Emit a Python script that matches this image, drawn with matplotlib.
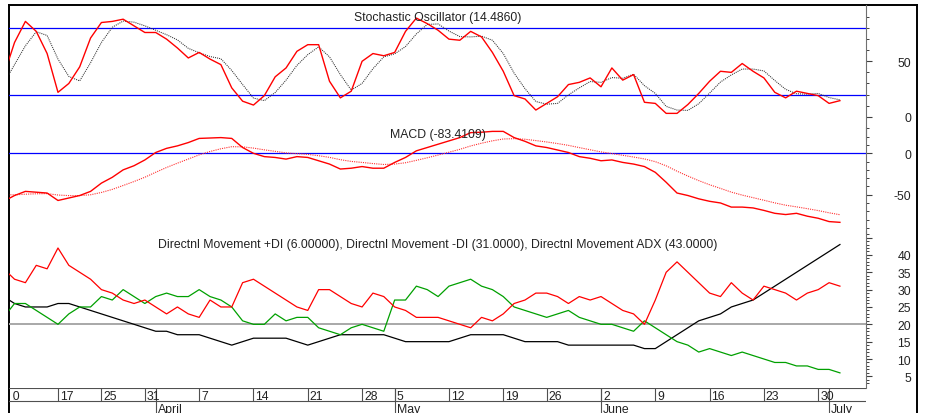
import matplotlib
matplotlib.use('Agg')
import matplotlib.pyplot as plt
import matplotlib.transforms as mtransforms
import numpy as np
import pandas as pd

W, H = 928, 414
plt.rcParams['font.family'] = ['Liberation Sans', 'DejaVu Sans']
FS = 8.8

# ---------------- data ----------------
holidays = ['2008-03-21', '2008-03-24', '2008-05-01', '2008-05-02', '2008-05-23']
dates = pd.bdate_range('2008-03-10', '2008-07-02')
dates = dates[~dates.isin(pd.to_datetime(holidays))]
month_names = {4: 'April', 5: 'May', 6: 'June', 7: 'July'}

stoch_k = [37, 67, 86, 77, 57, 22, 30, 45, 71, 85,
           86, 88, 82, 76, 76, 70, 62, 53, 58, 52,
           47, 26, 14, 10.5, 19, 36, 44, 59, 65, 65,
           32, 17, 23, 50, 57, 55, 58, 77, 89, 84,
           78, 70, 69, 77, 72, 58, 41, 19, 16, 6,
           12, 18, 29, 31, 35, 27, 44, 33, 38, 13,
           12, 3, 3, 11, 21, 32, 41, 40, 48, 41,
           35, 22, 17, 23, 21, 19, 12, 14.486]
stoch_d = [30, 47, 64, 76.7, 73.3, 52, 36.3, 32.3, 48.7, 67,
           80.7, 86.3, 85.3, 82, 78, 74, 69.3, 61.7, 57.7, 54.3,
           52.3, 41.7, 29, 16.8, 14.5, 21.8, 33, 46.3, 56, 63,
           54, 38, 24, 30, 43.3, 54, 56.7, 63.3, 74.7, 83.3,
           83.7, 77.3, 72.3, 72, 72.7, 69, 57, 39.3, 25.3, 13.7,
           11.3, 12, 19.7, 26, 31.7, 31, 35.3, 34.7, 38.3, 28,
           21, 9.3, 6, 5.7, 11.7, 21.3, 31.3, 37.7, 43, 43,
           41.3, 32.7, 24.7, 20.7, 20.3, 21, 17.3, 15.2]
macd = [-58, -51, -46, -47, -48, -57, -54, -51, -46, -36,
        -29, -20, -15, -8, 1, 6, 9, 13, 18, 18.5,
        19, 18, 7, 0, -4, -5, -7, -4, -5, -9,
        -13, -19, -18, -16, -18, -18, -11, -5, 3, 7,
        11, 15, 19, 25, 25.5, 26.5, 26.5, 19, 14.5, 9,
        7, 4, 1, -4, -6, -9, -8, -11, -13, -16,
        -23, -35, -48, -51, -55, -58, -60, -65, -65, -66,
        -69, -72.5, -74, -72.5, -76, -78.5, -82.5, -83.4109]
macd_signal = [-50, -50.2, -49.4, -48.9, -48.7, -50.4, -51.1, -51.1, -50.1, -47.3,
               -43.6, -38.9, -34.1, -28.9, -22.9, -17.1, -11.9, -6.9, -1.9, 2.2,
               5.5, 8.0, 7.8, 6.3, 4.2, 2.4, 0.5, -0.4, -1.3, -2.9,
               -4.9, -7.7, -9.8, -11.0, -12.4, -13.5, -13.0, -11.4, -8.5, -5.4,
               -2.1, 1.3, 4.8, 8.9, 12.2, 15.1, 17.3, 17.7, 17.0, 15.4,
               13.7, 11.8, 9.6, 6.9, 4.3, 1.7, -0.3, -2.4, -4.5, -6.8,
               -10.1, -15.1, -21.6, -27.5, -33.0, -38.0, -42.4, -46.9, -50.5, -53.6,
               -56.7, -59.9, -62.7, -64.7, -66.9, -69.2, -71.9, -74.2]
plus_di = [22, 26, 26, 24, 22, 20, 23, 25, 25, 28,
           27, 30, 28, 26, 28, 29, 28, 28, 30, 28,
           27, 25, 21, 20, 20, 23, 21, 22, 22, 19,
           18, 17, 19, 20, 19, 18, 27, 27, 31, 30,
           28, 31, 32, 33, 31, 30, 28, 25, 24, 23,
           22, 23, 24, 22, 21, 20, 20, 19, 18, 21,
           19, 17, 15, 14, 12, 13, 12, 11, 12, 11,
           10, 9, 9, 8, 8, 7, 7, 6]
minus_di = [36, 33, 32, 37, 36, 42, 37, 35, 33, 30,
            29, 27, 26, 27, 25, 23, 25, 23, 22, 27,
            25, 25, 32, 33, 31, 29, 27, 25, 24, 30,
            30, 28, 26, 25, 29, 28, 25, 24, 22, 22,
            22, 21, 20, 19, 22, 21, 23, 26, 27, 29,
            29, 28, 26, 28, 27, 28, 26, 24, 23, 20,
            27, 35, 38, 35, 32, 29, 28, 32, 29, 27,
            31, 30, 29, 27, 29, 30, 32, 31]
adx = [28, 26, 25, 25, 25, 26, 26, 25, 24, 23,
       22, 21, 20, 19, 18, 18, 17, 17, 17, 16,
       15, 14, 15, 16, 16, 16, 16, 15, 14, 15,
       16, 17, 17, 17, 17, 17, 16, 15, 15, 15,
       15, 15, 16, 17, 17, 17, 17, 16, 15, 15,
       15, 15, 14, 14, 14, 14, 14, 14, 14, 13,
       13, 15, 17, 19, 21, 22, 23, 25, 26, 27,
       29, 31, 33, 35, 37, 39, 41, 43]

stoch_title = 'Stochastic Oscillator (14.4860)'
macd_title = 'MACD (-83.4109)'
dmi_title = ('Directnl Movement +DI (6.00000), Directnl Movement -DI (31.0000), '
             'Directnl Movement ADX (43.0000)')

# ---------------- layout ----------------
x = np.arange(len(dates))
XLIM = (0.49, 79.4)
fig = plt.figure(figsize=(W / 100, H / 100), dpi=100)


def px_axes(x0, y0, x1, y1, z=1):
    ax = fig.add_axes([x0 / W, 1 - y1 / H, (x1 - x0) / W, (y1 - y0) / H])
    ax.set_zorder(z)
    ax.patch.set_alpha(0)
    return ax


# outer frame
frame = px_axes(8.8, 6.2, 917.2, 440, z=0)
frame.set_xticks([]); frame.set_yticks([])
for s in ['left', 'top', 'right']:
    frame.spines[s].set_linewidth(1.4)
    frame.spines[s].set_color('black')
frame.spines['bottom'].set_visible(False)

AXC = '#707070'


def style_panel(ax, ylim, major, labels, minor):
    ax.set_xlim(*XLIM)
    ax.set_ylim(*ylim)
    ax.set_xticks([])
    for s in ['left', 'top', 'bottom']:
        ax.spines[s].set_visible(False)
    ax.spines['right'].set_color(AXC)
    ax.spines['right'].set_linewidth(0.8)
    ax.yaxis.tick_right()
    ax.set_yticks(major, labels, ha='right', fontsize=FS, color='#222222')
    ax.set_yticks(minor, minor=True)
    ax.tick_params(axis='y', which='major', length=4.3, width=0.8, color='#404040',
                   pad=(911 - 866 - 6) * 0.72)
    ax.tick_params(axis='y', which='minor', length=2.5, width=0.7, color='#404040')


# Stochastic panel
ax1 = px_axes(9, 6, 866, 140, z=2)
style_panel(ax1, (-20.13, 100.81), [0, 50], ['0', '50'], list(range(-10, 100, 10)))
ax1.axhline(80, color='#0000ff', lw=0.9)
ax1.axhline(20, color='#0000ff', lw=0.9)
ax1.plot(x, stoch_d, color='#303030', lw=0.75, ls=(0, (1, 1)))
ax1.plot(x, stoch_k, color='#ff0000', lw=1.0)
ax1.text(0.5, (140 - 18) / 134, stoch_title, transform=ax1.transAxes,
         ha='center', va='center', fontsize=FS, color='#222222')

# MACD panel
ax2 = px_axes(9, 128, 866, 234, z=3)
style_panel(ax2, (-96.3, 31.8), [0, -50], ['0', '-50'], list(range(-90, 30, 10)))
ax2.axhline(0, color='#0000ff', lw=0.9)
ax2.plot(x, macd_signal, color='#ff3030', lw=0.8, ls=(0, (1, 1)))
ax2.plot(x, macd, color='#ff0000', lw=1.0)
ax2.text(0.5, (234 - 135.5) / 106, macd_title, transform=ax2.transAxes,
         ha='center', va='center', fontsize=FS, color='#222222')

# DMI panel
ax3 = px_axes(9, 232, 866, 389, z=4)
style_panel(ax3, (1.64, 46.9), [5, 10, 15, 20, 25, 30, 35, 40, 45],
            ['5', '10', '15', '20', '25', '30', '35', '40', ''], list(range(3, 47)))
ax3.axhline(20, color='#a8a8a8', lw=1.4)
ax3.plot(x, adx, color='black', lw=0.9)
ax3.plot(x, plus_di, color='#00a000', lw=0.9)
ax3.plot(x, minus_di, color='#ff0000', lw=0.9)
ax3.text(0.5, (389 - 245) / 157, dmi_title, transform=ax3.transAxes,
         ha='center', va='center', fontsize=FS, color='#222222')

# date axis (y measured in pixels below y=389)
dax = px_axes(9, 389, 866, 440, z=5)
dax.set_xlim(*XLIM)
dax.set_ylim(51, 0)
dax.axis('off')
LC = '#505050'
dax.axhline(0, color=LC, lw=0.8)
dax.axhline(13, color=LC, lw=0.8)
week = dates.isocalendar().week.values
week_start = [i for i in range(len(dates)) if i == 0 or week[i] != week[i - 1]]
month_start = [i for i in range(1, len(dates)) if dates[i].month != dates[i - 1].month]
dax.vlines(week_start, 0, 13, color=LC, lw=0.8)
dax.vlines(month_start, 0, 51, color=LC, lw=0.8)
toff = mtransforms.offset_copy(dax.transData, fig=fig, x=2, y=0, units='dots')
clipbox = mtransforms.TransformedBbox(
    mtransforms.Bbox([[12.9 / W, 0], [866 / W, 1]]), fig.transFigure)
for i in week_start:
    t = dax.text(i, 10.6, str(dates[i].day), transform=toff, ha='left', va='baseline',
                 fontsize=FS, color='#222222', clip_on=True)
    t.set_clip_box(clipbox)
for i in month_start:
    t = dax.text(i, 24.0, month_names[dates[i].month], transform=toff, ha='left',
                 va='baseline', fontsize=FS, color='#222222', clip_on=True)
    t.set_clip_box(clipbox)

fig.savefig('out.png', dpi=100)
